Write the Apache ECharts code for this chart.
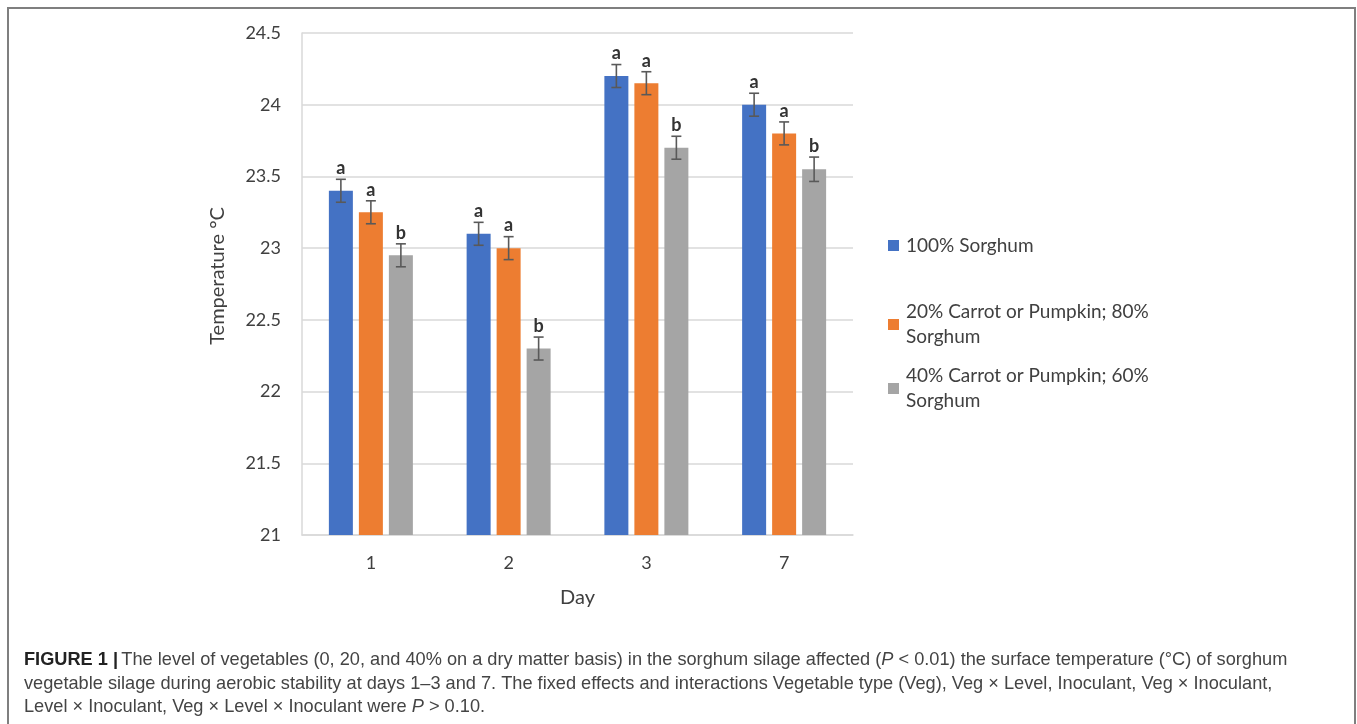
<!DOCTYPE html>
<html>
<head>
<meta charset="utf-8">
<script src="https://cdn.jsdelivr.net/npm/echarts@6/dist/echarts.min.js"></script>
<style>
  html, body { margin: 0; padding: 0; background: #fff; }
  #chart { width: 1357px; height: 724px; }
</style>
</head>
<body>
<div id="chart"></div>
<script>
// Surface temperature (°C) of sorghum / vegetable silage during aerobic stability
const days = ['1', '2', '3', '7'];
const seriesNames = [
  '100% Sorghum',
  '20% Carrot or Pumpkin; 80% Sorghum',
  '40% Carrot or Pumpkin; 60% Sorghum'
];
const sorghum100 = [23.40, 23.10, 24.20, 24.00];
const veg20 = [23.25, 23.00, 24.15, 23.80];
const veg40 = [22.95, 22.30, 23.70, 23.55];
const se100 = [0.08, 0.08, 0.08, 0.08];
const se20 = [0.08, 0.08, 0.08, 0.08];
const se40 = [0.08, 0.08, 0.08, 0.085];
const sig100 = ['a', 'a', 'a', 'a'];
const sig20 = ['a', 'a', 'a', 'a'];
const sig40 = ['b', 'b', 'b', 'b'];
const yTicks = { min: 21, max: 24.5, interval: 0.5 };

const colors = ['#4472C4', '#ED7D31', '#A5A5A5'];
const BAR_W = 24, BAR_GAP = 6;
const FONT = 'Lato, "Open Sans", sans-serif';
const CAPTION_FONT = '"Liberation Sans", Arial, sans-serif';

const chart = echarts.init(document.getElementById('chart'));

const values = [sorghum100, veg20, veg40];
const errors = [se100, se20, se40];
const letters = [sig100, sig20, sig40];

// Error bars with significance letters, placed over each bar of the group
function errorSeries(k) {
  const offset = (k - 1) * (BAR_W + BAR_GAP);
  return {
    type: 'custom',
    z: 5,
    silent: true,
    data: days.map((d, i) => [i, values[k][i], errors[k][i]]),
    renderItem: function (params, api) {
      const i = api.value(0), v = api.value(1), e = api.value(2);
      const hi = api.coord([i, v + e]);
      const lo = api.coord([i, v - e]);
      const x = hi[0] + offset;
      const cap = 5;
      const st = { stroke: '#595959', lineWidth: 1.6 };
      return {
        type: 'group',
        children: [
          { type: 'line', shape: { x1: x, y1: hi[1], x2: x, y2: lo[1] }, style: st },
          { type: 'line', shape: { x1: x - cap, y1: hi[1], x2: x + cap, y2: hi[1] }, style: st },
          { type: 'line', shape: { x1: x - cap, y1: lo[1], x2: x + cap, y2: lo[1] }, style: st },
          {
            type: 'text',
            style: {
              x: x, y: hi[1] - 2,
              text: letters[k][params.dataIndex],
              align: 'center', verticalAlign: 'bottom',
              font: 'bold 18px ' + FONT, fill: '#333'
            }
          }
        ]
      };
    }
  };
}

function legendAt(k, top) {
  const twoLine = k > 0;
  return {
    data: [seriesNames[k]],
    left: 883,
    top: top,
    itemWidth: 11,
    itemHeight: 11,
    icon: 'rect',
    formatter: twoLine ? (n) => n.replace(/ Sorghum$/, '\nSorghum') : undefined,
    textStyle: {
      fontFamily: FONT, fontSize: 19, color: '#404040',
      lineHeight: 25,
      padding: twoLine ? [25, 0, 0, 2] : [0, 0, 0, 2]
    },
    itemGap: 0,
    selectedMode: false
  };
}

const option = {
  animation: false,
  color: colors,
  textStyle: { fontFamily: FONT },
  grid: { left: 302, right: 504, top: 33, bottom: 189, containLabel: false },
  legend: [legendAt(0, 228), legendAt(1, 282), legendAt(2, 346)],
  xAxis: {
    type: 'category',
    data: days,
    name: 'Day',
    nameLocation: 'middle',
    nameGap: 53,
    nameTextStyle: { fontFamily: FONT, fontSize: 20, color: '#404040' },
    axisLine: { lineStyle: { color: '#d9d9d9', width: 1.5 } },
    axisTick: { show: false },
    axisLabel: { fontFamily: FONT, fontSize: 18, color: '#404040', margin: 19 }
  },
  yAxis: {
    type: 'value',
    min: yTicks.min, max: yTicks.max, interval: yTicks.interval,
    name: 'Temperature °C',
    nameLocation: 'middle',
    nameRotate: 90,
    nameGap: 74,
    nameTextStyle: { fontFamily: FONT, fontSize: 20, color: '#404040', padding: [0, 0, 0, 16] },
    axisLine: { show: true, lineStyle: { color: '#d9d9d9', width: 1.5 } },
    axisTick: { show: false },
    splitLine: { lineStyle: { color: '#d9d9d9', width: 1.5 } },
    axisLabel: { fontFamily: FONT, fontSize: 18, color: '#404040', margin: 21 }
  },
  series: [
    { name: seriesNames[0], type: 'bar', data: sorghum100, barWidth: BAR_W, barGap: (BAR_GAP / BAR_W * 100) + '%' },
    { name: seriesNames[1], type: 'bar', data: veg20, barWidth: BAR_W, barGap: (BAR_GAP / BAR_W * 100) + '%' },
    { name: seriesNames[2], type: 'bar', data: veg40, barWidth: BAR_W, barGap: (BAR_GAP / BAR_W * 100) + '%' },
    errorSeries(0), errorSeries(1), errorSeries(2)
  ],
  graphic: [
    {
      type: 'rect',
      shape: { x: 8, y: 8, width: 1347, height: 740 },
      style: { fill: 'none', stroke: '#7f7f7f', lineWidth: 2 },
      silent: true
    },
    {
      type: 'text',
      left: 24, top: 651,
      style: {
        text: '{b|FIGURE 1 |} {n|The level of vegetables (0, 20, and 40% on a dry matter basis) in the sorghum silage affected (}{i|P}{n| < 0.01) the surface temperature (°C) of sorghum}\n' +
              '{n|vegetable silage during aerobic stability at days 1–3 and 7. The fixed effects and interactions Vegetable type (Veg), Veg × Level, Inoculant, Veg × Inoculant,}\n' +
              '{n|Level × Inoculant, Veg × Level × Inoculant were }{i|P}{n| > 0.10.}',
        rich: {
          b: { fontFamily: CAPTION_FONT, fontWeight: 'bold', fontSize: 18.2, fill: '#222', lineHeight: 23.5 },
          n: { fontFamily: CAPTION_FONT, fontSize: 18.2, fill: '#444', lineHeight: 23.5 },
          i: { fontFamily: CAPTION_FONT, fontStyle: 'italic', fontSize: 18.2, fill: '#444', lineHeight: 23.5 }
        }
      }
    }
  ]
};

chart.setOption(option);
</script>
</body>
</html>
